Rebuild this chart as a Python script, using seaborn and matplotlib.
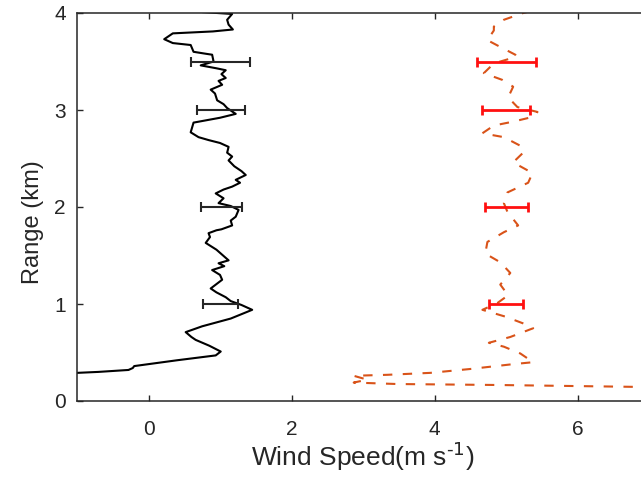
import numpy as np
import pandas as pd
import matplotlib
matplotlib.use('Agg')
import matplotlib.pyplot as plt
import seaborn as sns

# black profile (solid), read top to bottom
black_x = [0.75, 1.17, 1.10, 1.12, 1.18, 0.90, 0.34, 0.22, 0.34, 0.59, 0.63, 0.80, 0.89, 0.91, 0.73,
           0.95, 1.08, 1.02, 1.08, 0.98, 1.03, 0.87, 0.93, 0.96, 1.05, 1.10, 1.22, 1.00, 0.63, 0.59,
           0.70, 0.84, 1.00, 1.12, 1.10, 1.17, 1.12, 1.20, 1.30, 1.36, 1.22, 1.28, 1.17, 1.05, 0.94,
           1.05, 0.98, 1.15, 1.26, 1.22, 1.15, 1.17, 1.02, 0.95, 0.84, 0.86, 0.80, 0.95, 1.12, 0.98,
           1.06, 0.89, 1.00, 1.03, 0.87, 0.95, 1.08, 1.15, 1.30, 1.45, 1.15, 0.75, 0.52, 0.60, 0.66,
           0.85, 1.01, 0.94, 0.40, -0.20, -0.22, -0.28, -0.70, -1.30]
black_y = [4.01, 3.99, 3.93, 3.88, 3.83, 3.81, 3.79, 3.73, 3.69, 3.67, 3.60, 3.58, 3.57, 3.50, 3.46,
           3.43, 3.41, 3.37, 3.33, 3.30, 3.26, 3.21, 3.17, 3.10, 3.06, 3.02, 2.96, 2.92, 2.87, 2.77,
           2.72, 2.69, 2.66, 2.62, 2.56, 2.52, 2.48, 2.42, 2.37, 2.33, 2.28, 2.25, 2.21, 2.18, 2.14,
           2.09, 2.04, 2.01, 1.97, 1.90, 1.86, 1.81, 1.77, 1.76, 1.73, 1.69, 1.63, 1.56, 1.45, 1.42,
           1.39, 1.35, 1.30, 1.25, 1.16, 1.12, 1.07, 1.03, 0.99, 0.94, 0.85, 0.77, 0.71, 0.66, 0.63,
           0.57, 0.51, 0.47, 0.42, 0.36, 0.34, 0.32, 0.30, 0.28]

# orange profile (dashed)
orange_x = [5.35, 5.24, 4.97, 4.83, 4.83, 4.74, 4.92, 5.13, 5.15, 4.83, 4.69, 4.95, 5.10, 5.03, 5.16,
            5.44, 5.38, 5.10, 4.83, 4.67, 4.97, 5.23, 5.24, 5.10, 5.37, 5.31, 5.02, 4.97, 5.02, 5.17,
            4.97, 4.74, 4.71, 4.92, 5.06, 4.92, 5.03, 4.88, 4.67, 4.99, 5.24, 5.38, 5.06, 4.76, 4.97,
            5.20, 5.38, 5.10, 4.50, 3.94, 3.34, 2.87, 3.06, 2.87, 3.48, 4.88, 6.88, 8.00]
orange_y = [4.02, 4.00, 3.93, 3.86, 3.82, 3.72, 3.65, 3.57, 3.55, 3.48, 3.38, 3.31, 3.24, 3.13, 3.03,
            2.98, 2.93, 2.88, 2.84, 2.76, 2.72, 2.62, 2.56, 2.46, 2.35, 2.25, 2.15, 2.04, 1.95, 1.81,
            1.74, 1.64, 1.52, 1.43, 1.32, 1.20, 1.09, 1.01, 0.94, 0.87, 0.80, 0.75, 0.66, 0.60, 0.56,
            0.49, 0.40, 0.38, 0.33, 0.29, 0.27, 0.26, 0.22, 0.19, 0.175, 0.165, 0.145, 0.13]

# error bars
err_y = [1, 2, 3, 3.5]
black_center = [1.01, 1.02, 1.02, 1.01]
black_err = [0.245, 0.29, 0.335, 0.41]
red_center = [5.00, 5.01, 5.00, 5.01]
red_err = [0.235, 0.30, 0.335, 0.415]

sns.set_style('ticks', {'xtick.direction': 'in', 'ytick.direction': 'in',
                        'axes.edgecolor': '#262626'})
plt.rcParams['font.family'] = ['Liberation Sans', 'DejaVu Sans']

fig = plt.figure(figsize=(6.41, 4.91), dpi=100)
ax = fig.add_axes([77 / 641, 90 / 491, 572 / 641, 388 / 491])

df_b = pd.DataFrame({'x': black_x, 'y': black_y})
df_o = pd.DataFrame({'x': orange_x, 'y': orange_y})
sns.lineplot(data=df_b, x='x', y='y', sort=False, estimator=None, color='black', lw=1.5, ax=ax)
sns.lineplot(data=df_o, x='x', y='y', sort=False, estimator=None, color='#D95319', lw=1.5,
             linestyle=(0, (4.5, 5.0)), ax=ax)

ax.errorbar(black_center, err_y, xerr=black_err, fmt='none', ecolor='#262626',
            elinewidth=1.5, capsize=3.5, capthick=1.5)
ax.errorbar(red_center, err_y, xerr=red_err, fmt='none', ecolor='#FF1010',
            elinewidth=2, capsize=3.5, capthick=2)

ax.set_xlim(-1, 7)
ax.set_ylim(0, 4)
ax.set_xticks([0, 2, 4, 6])
ax.set_yticks([0, 1, 2, 3, 4])
ax.tick_params(axis='both', which='both', top=True, right=True, length=4, width=1,
               labelsize=15, colors='#262626', labelcolor='#262626')
ax.tick_params(axis='x', pad=14)
ax.tick_params(axis='y', pad=8)
for s in ax.spines.values():
    s.set_linewidth(1.1)
    s.set_visible(True)

ax.set_xlabel('Wind Speed(m s$^{\\text{-1}}$)', fontsize=19, color='#262626', labelpad=0)
ax.set_ylabel('Range (km)', fontsize=17, color='#262626')
ax.yaxis.set_label_coords(-0.058, 0.46)

fig.savefig('out.png', dpi=100)
